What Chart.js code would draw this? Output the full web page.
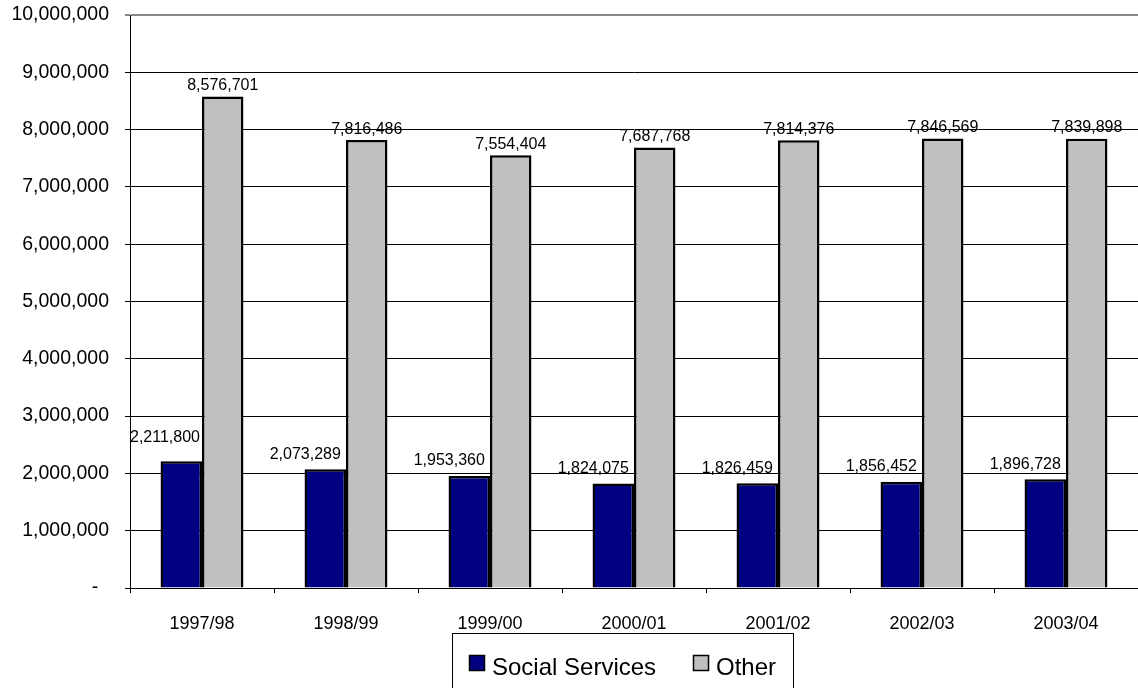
<!DOCTYPE html>
<html>
<head>
<meta charset="utf-8">
<script src="https://cdn.jsdelivr.net/npm/chart.js@4/dist/chart.umd.min.js"></script>
<style>
  html, body { margin: 0; padding: 0; background: #fff; }
  #chart { display: block; }
</style>
</head>
<body>
<canvas id="chart" width="1138" height="688"></canvas>
<script>
const years = ['1997/98', '1998/99', '1999/00', '2000/01', '2001/02', '2002/03', '2003/04'];
const socialServices = [2211800, 2073289, 1953360, 1824075, 1826459, 1856452, 1896728];
const other = [8576701, 7816486, 7554404, 7687768, 7814376, 7846569, 7839898];
const seriesNames = ['Social Services', 'Other'];
const seriesColors = ['#000080', '#C0C0C0'];

const fmt = v => v.toLocaleString('en-US');

// value labels above each bar
const barLabels = {
    id: 'barLabels',
    afterDatasetsDraw(chart) {
        const ctx = chart.ctx;
        ctx.save();
        ctx.font = '16px "Liberation Sans", Arial, sans-serif';
        ctx.fillStyle = '#000';
        ctx.textAlign = 'center';
        ctx.textBaseline = 'bottom';
        chart.data.datasets.forEach((ds, i) => {
            chart.getDatasetMeta(i).data.forEach((bar, j) => {
                const text = fmt(ds.data[j]);
                let x = bar.x;
                let gap = 3;
                if (i === 0) {
                    x -= 20;
                    gap = 7;
                    const w = ctx.measureText(text).width;
                    if (x - w / 2 < chart.chartArea.left) {
                        x = chart.chartArea.left + w / 2;
                        gap = 16;
                    }
                }
                ctx.fillText(text, x, bar.y - gap);
            });
        });
        ctx.restore();
    }
};

// boxed legend under the axis
const boxLegend = {
    id: 'boxLegend',
    afterDraw(chart) {
        const ctx = chart.ctx;
        ctx.save();
        ctx.strokeStyle = '#000';
        ctx.lineWidth = 1;
        ctx.strokeRect(452.5, 633.5, 341, 70);
        ctx.font = '24px "Liberation Sans", Arial, sans-serif';
        ctx.textBaseline = 'alphabetic';
        const items = [[469, seriesNames[0]], [693, seriesNames[1]]];
        items.forEach(([x, name], i) => {
            ctx.fillStyle = seriesColors[i];
            ctx.fillRect(x, 655, 15, 15);
            ctx.lineWidth = 1.5;
            ctx.strokeRect(x + 0.5, 655.5, 15, 15);
            ctx.fillStyle = '#000';
            ctx.fillText(name, x + 23, 675);
        });
        ctx.restore();
    }
};

new Chart(document.getElementById('chart').getContext('2d'), {
    type: 'bar',
    data: {
        labels: years,
        datasets: [
            {
                label: seriesNames[0],
                data: socialServices,
                backgroundColor: seriesColors[0],
                borderColor: '#000',
                borderWidth: 2.5,
                barPercentage: 1,
                categoryPercentage: 0.576
            },
            {
                label: seriesNames[1],
                data: other,
                backgroundColor: seriesColors[1],
                borderColor: '#000',
                borderWidth: 2.5,
                barPercentage: 1,
                categoryPercentage: 0.576
            }
        ]
    },
    options: {
        responsive: false,
        animation: false,
        layout: { padding: { top: 15, left: 0, right: 0, bottom: 0 } },
        plugins: {
            legend: { display: false },
            tooltip: { enabled: false }
        },
        scales: {
            x: {
                afterFit(scale) {
                    scale.height = 100;
                    scale.paddingLeft = 0;
                    scale.paddingRight = 0;
                },
                border: { color: '#000', width: 1 },
                grid: {
                    offset: true,
                    drawOnChartArea: false,
                    tickLength: 5,
                    color: '#000'
                },
                ticks: {
                    color: '#000',
                    padding: 20,
                    font: { family: '"Liberation Sans", Arial, sans-serif', size: 18 }
                }
            },
            y: {
                min: 0,
                max: 10000000,
                afterFit(scale) {
                    scale.width = 130;
                    scale.paddingTop = 0;
                    scale.paddingBottom = 0;
                },
                border: { color: '#000', width: 1 },
                grid: {
                    tickLength: 5,
                    color: ctx => ctx.tick && ctx.tick.value === 10000000 ? '#888' : '#000',
                    lineWidth: ctx => ctx.tick && ctx.tick.value === 10000000 ? 2 : 1
                },
                ticks: {
                    stepSize: 1000000,
                    color: '#000',
                    padding: 16,
                    font: { family: '"Liberation Sans", Arial, sans-serif', size: 19.5 },
                    callback: v => v === 0 ? '-  ' : fmt(v)
                }
            }
        }
    },
    plugins: [barLabels, boxLegend]
});
</script>
</body>
</html>
